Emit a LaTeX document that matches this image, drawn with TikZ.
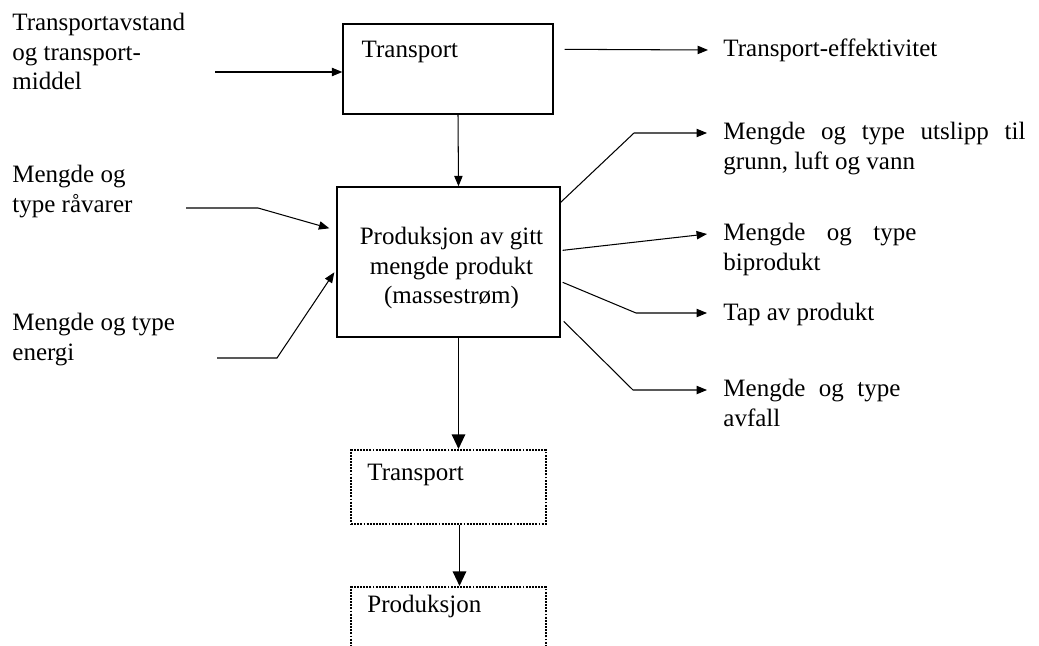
\documentclass[tikz,border=0pt]{standalone}
\usepackage{fontspec}
\setmainfont{Liberation Serif}
\usetikzlibrary{arrows.meta,calc}
\newlength\pxl
\setlength\pxl{0.48pt}

\begin{document}
\begin{tikzpicture}[x=\pxl,y=-\pxl,
  txt/.style={inner sep=0pt,font=\fontsize{12}{14.2}\selectfont,align=left},
  box/.style={draw,line width=0.65pt,inner sep=0pt},
  dotbox/.style={draw,line width=1pt,dash pattern=on 0.9pt off 0.6pt,inner sep=0pt},
  arr/.style={line width=0.5pt,-{Triangle[length=5pt,width=4pt]}},
  bigarr/.style={line width=0.6pt,-{Triangle[length=7pt,width=6.5pt]}}]
\useasboundingbox (0,0) rectangle (1039,645);
\clip (0,0) rectangle (1039,645);

% boxes
\node[box,minimum width=210*\pxl,minimum height=90*\pxl] (tbox) at (448,69) {};
\node[txt,anchor=base west] (tboxtxt) at ($(tbox.north west)+(19,34)$) {Transport};
\node[box,minimum width=223*\pxl,minimum height=150*\pxl] (prod) at (448.5,262) {};
\node[txt,align=center] (prodtxt) at ($(prod.center)+(3,6)$)
  {Produksjon av gitt\\mengde produkt\\(massestrøm)};
\node[dotbox,minimum width=195*\pxl,minimum height=74*\pxl] (tdot) at (448.5,487) {};
\node[txt,anchor=base west] (tdottxt) at ($(tdot.north west)+(17,32)$) {Transport};
\node[dotbox,minimum width=195*\pxl,minimum height=74*\pxl] (pdot) at (448.5,624) {};
\node[txt,anchor=base west] (pdottxt) at ($(pdot.north west)+(17,27)$) {Produksjon};

% inputs (base = last line)
\node[txt,anchor=base west] (transpin) at (12,90) {Transportavstand\\og transport-\\middel};
\node[txt,anchor=base west] (raavarer) at (12,212) {Mengde og\\type råvarer};
\node[txt,anchor=base west] (energi) at (12,360) {Mengde og type\\energi};
\coordinate (in1) at (215,72);
\coordinate (in2) at (186,208);
\coordinate (in3) at (217,358);
\draw[arr] (in1) -- (in1 -| tbox.west);
\draw[arr] (in2) -- ++(72,0) -- ($(prod.north west)+(-7,42)$);
\draw[arr] (in3) -- ++(60,0) -- ($(prod.north west)+(-2,86)$);

% flow down
\draw[arr] ([xshift=10*\pxl]tbox.south) -- ([xshift=10*\pxl]prod.north);
\draw[bigarr] ([xshift=10*\pxl]prod.south) -- ([xshift=10*\pxl]tdot.north);
\draw[bigarr] ([xshift=11*\pxl]tdot.south) -- ([xshift=11*\pxl]pdot.north);

% outputs
\coordinate (o0) at (708,50);
\coordinate (o1) at (707,133);
\coordinate (o2) at (707,234);
\coordinate (o3) at (707,313);
\coordinate (o4) at (707,390);
\draw[arr] ($(tbox.north east)+(11,26)$) -- (o0);
\draw[arr] ($(prod.north east)+(0,16)$) -- ($(o1)+(-73,0)$) -- (o1);
\draw[arr] ($(prod.north east)+(2,64)$) -- (o2);
\draw[arr] ($(prod.north east)+(2,96)$) -- ($(o3)+(-71,0)$) -- (o3);
\draw[arr] ($(prod.north east)+(3,135)$) -- ($(o4)+(-74,0)$) -- (o4);

\node[txt,anchor=base west] (effekt) at ($(o0)+(15,7)$) {Transport-effektivitet};
\node[txt,anchor=base west] (utslipp) at ($(o1)+(16,36)$)
  {\makebox[302\pxl][s]{Mengde og type utslipp til}\\grunn, luft og vann};
\node[txt,anchor=base west] (biprod) at ($(o2)+(16,36)$)
  {\makebox[193\pxl][s]{Mengde og type}\\biprodukt};
\node[txt,anchor=base west] (tap) at ($(o3)+(16,7)$) {Tap av produkt};
\node[txt,anchor=base west] (avfall) at ($(o4)+(16,36)$)
  {\makebox[177\pxl][s]{Mengde og type}\\avfall};
\end{tikzpicture}
\end{document}
